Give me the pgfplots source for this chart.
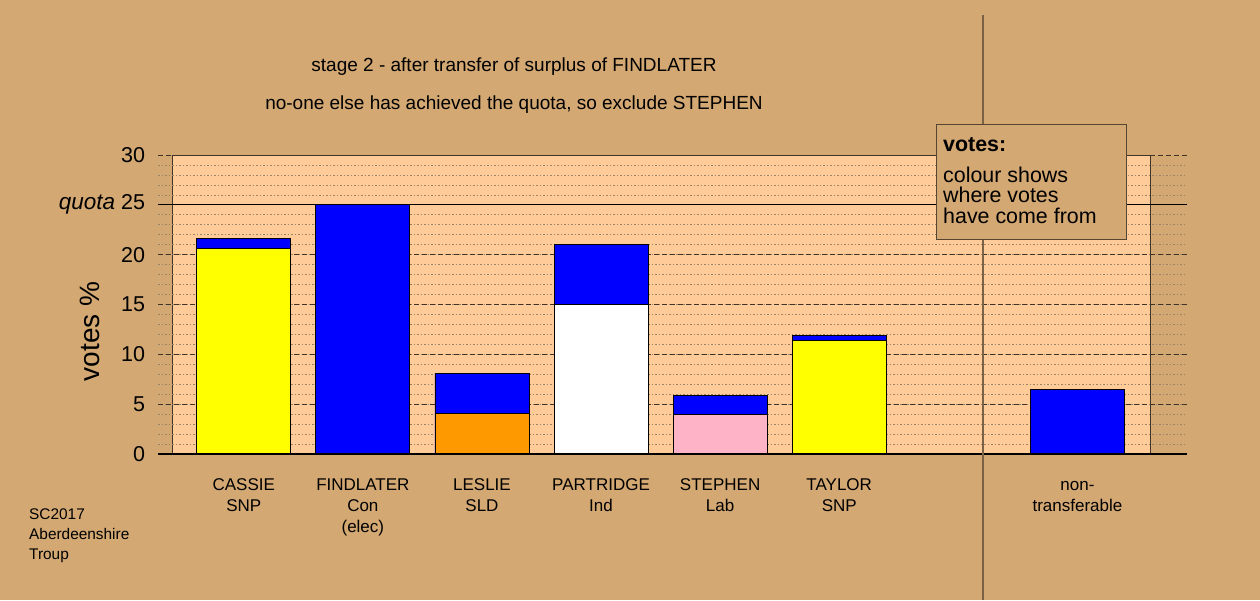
\documentclass[border=0pt]{standalone}
\usepackage{pgfplots}
\pgfplotsset{compat=1.18}
\usepackage{fontspec}
\setmainfont{Liberation Sans}
\definecolor{bgtan}{HTML}{D3A873}
\definecolor{panel}{HTML}{FFCC99}
\definecolor{sep}{HTML}{7A6246}
\definecolor{gridmaj}{HTML}{3F3427}
\definecolor{gridmin}{HTML}{9A8264}
\definecolor{barblue}{HTML}{0000FF}
\definecolor{baryellow}{HTML}{FFFF00}
\definecolor{barorange}{HTML}{FF9900}
\definecolor{barpink}{HTML}{FFB3C6}
\begin{document}
\begin{tikzpicture}
\begin{axis}[
  set layers,
  scale only axis, width=1029pt, height=299pt,
  at={(158pt,146pt)}, anchor=south west,
  xmin=-0.72, xmax=7.92, ymin=0, ymax=30,
  axis line style={draw=none},
  major tick length=0pt, minor tick length=0pt,
  xtick={0,1,2,3,4,5,7},
  xticklabels={{\strut CASSIE\\SNP},{\strut FINDLATER\\Con\\(elec)},{\strut LESLIE\\SLD},{\strut PARTRIDGE\\Ind},{\strut STEPHEN\\Lab},{\strut TAYLOR\\SNP},{\strut non-\\transferable}},
  xticklabel style={font=\fontsize{17}{21}\selectfont, align=center, anchor=north, yshift=-18.5pt},
  ytick={0,5,...,30},
  yticklabels={0,5,10,15,20,{{\fontsize{22.5}{24}\selectfont\textit{quota}} 25},30},
  yticklabel style={font=\fontsize{21.5}{24}\selectfont, anchor=east, xshift=-9.5pt},
  minor ytick={1,...,29},
  ymajorgrids, yminorgrids,
  major grid style={gridmaj, dash pattern=on 5pt off 3pt, line width=0.8pt},
  minor grid style={gridmin, dash pattern=on 1.5pt off 2pt, line width=0.7pt},
  ylabel={votes \%},
  every axis y label/.style={at={(axis description cs:-0.066,0.41)}, rotate=90, anchor=center, font=\fontsize{28}{30}\selectfont},
  clip=false,
]
\begin{pgfonlayer}{axis background}
\fill[bgtan] (axis cs:-2.0467,-14.649) rectangle (axis cs:8.533,45.552);
\fill[panel] (axis cs:-0.597,0) rectangle (axis cs:7.613,30);
\draw[gridmaj, line width=0.8pt] (axis cs:-0.597,0) rectangle (axis cs:7.613,30);
\end{pgfonlayer}
\draw[black, line width=1pt] (axis cs:-0.72,25) -- (axis cs:7.92,25);
% totals (own votes + transfers from FINDLATER)
\addplot[ybar, bar width=0.79, bar shift=0pt, fill=barblue, draw=black, line width=0.8pt]
  coordinates {(0,21.6) (1,25) (2,8.1) (3,21.0) (4,5.9) (5,11.9) (7,6.5)};
% first-preference votes
\addplot[ybar, bar width=0.79, bar shift=0pt, fill=baryellow, draw=black, line width=0.8pt]
  coordinates {(0,20.6) (5,11.4)};
\addplot[ybar, bar width=0.79, bar shift=0pt, fill=barorange, draw=black, line width=0.8pt]
  coordinates {(2,4.1)};
\addplot[ybar, bar width=0.79, bar shift=0pt, fill=white, draw=black, line width=0.8pt]
  coordinates {(3,15.0)};
\addplot[ybar, bar width=0.79, bar shift=0pt, fill=barpink, draw=black, line width=0.8pt]
  coordinates {(4,4.0)};
\draw[black, line width=1.2pt] (axis cs:-0.72,0) -- (axis cs:7.92,0);
\end{axis}
\draw[sep, line width=1.5pt] (983pt,0pt) -- (983pt,585pt);
\draw[fill=bgtan, draw=sep!70!black, line width=1pt] (936pt,360pt) rectangle (1126pt,475pt);
\node[anchor=base west, inner sep=0pt, font=\bfseries\fontsize{21.4}{21.4}\selectfont] at (943pt,448pt) {votes:};
\node[anchor=base west, inner sep=0pt, font=\fontsize{21.4}{21.4}\selectfont] at (943pt,417pt) {colour shows};
\node[anchor=base west, inner sep=0pt, font=\fontsize{21.4}{21.4}\selectfont] at (943pt,397pt) {where votes};
\node[anchor=base west, inner sep=0pt, font=\fontsize{21.4}{21.4}\selectfont] at (943pt,376pt) {have come from};
\node[anchor=base, inner sep=0pt, font=\fontsize{19}{19}\selectfont] at (514pt,528pt) {stage 2 - after transfer of surplus of FINDLATER};
\node[anchor=base, inner sep=0pt, font=\fontsize{19}{19}\selectfont] at (514pt,490pt) {no-one else has achieved the quota, so exclude STEPHEN};
\node[anchor=base west, inner sep=0pt, font=\fontsize{15.4}{15.4}\selectfont] at (29pt,80pt) {SC2017};
\node[anchor=base west, inner sep=0pt, font=\fontsize{15.4}{15.4}\selectfont] at (29pt,60.5pt) {Aberdeenshire};
\node[anchor=base west, inner sep=0pt, font=\fontsize{15.4}{15.4}\selectfont] at (29pt,41pt) {Troup};
\end{tikzpicture}
\end{document}
